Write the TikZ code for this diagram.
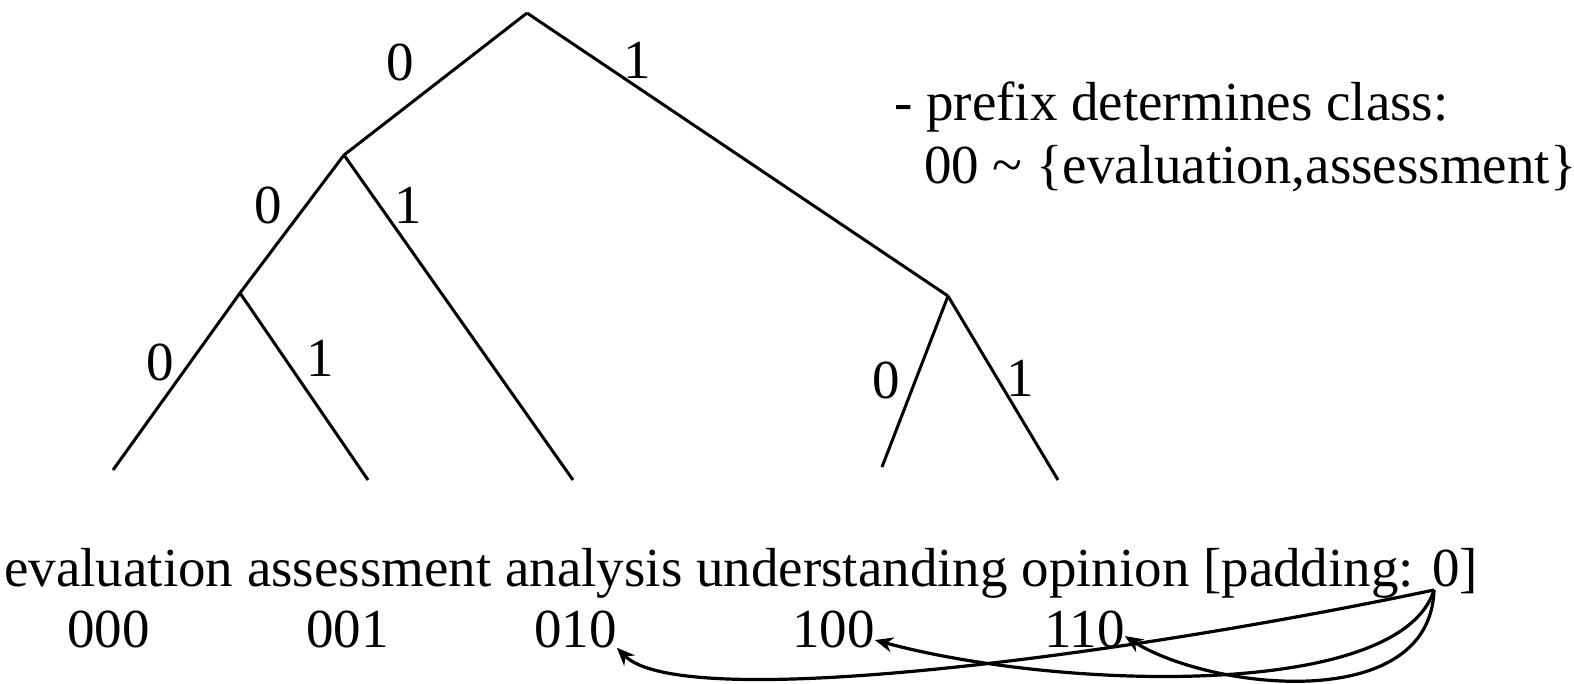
\documentclass[tikz,border=0pt]{standalone}
\usepackage{fontspec}
\setmainfont{Liberation Serif}
\usetikzlibrary{positioning}
\usetikzlibrary{arrows.meta}
\tikzset{bit/.style = {inner sep = 0, font = \fontsize{55}{66}\selectfont},
         word/.style = {inner sep = 0, anchor = base west, font = \fontsize{55}{66}\selectfont},
         edge/.style = {line width = 3pt},
         link/.style = {line width = 3.2pt, -{Stealth[length=18pt,width=15pt]}}}

\begin{document}
\begin{tikzpicture}[x=1pt, y=-1pt]
    \useasboundingbox (0,0) rectangle (1574,683);
    % tree nodes
    \coordinate (r) at (527,13);
    \coordinate (l) at (344,155);
    \coordinate (ll) at (240,293);
    \coordinate (rt) at (948,296);
    \coordinate (a) at (113,470);
    \coordinate (b) at (368,480);
    \coordinate (c) at (573,480);
    \coordinate (d) at (882,467);
    \coordinate (e) at (1058,480);
    \draw[edge] (r) -- (l);
    \draw[edge] (r) -- (rt);
    \draw[edge] (l) -- (ll);
    \draw[edge] (l) -- (c);
    \draw[edge] (ll) -- (a);
    \draw[edge] (ll) -- (b);
    \draw[edge] (rt) -- (d);
    \draw[edge] (rt) -- (e);
    % branch bits
    \node[bit] (b0) at (400,62) {0};
    \node[bit] (b1) at (637,60) {1};
    \node[bit] (b00) at (268,205) {0};
    \node[bit] (b01) at (408,205) {1};
    \node[bit] (b000) at (160,362) {0};
    \node[bit] (b001) at (320,358) {1};
    \node[bit] (b10) at (886,380) {0};
    \node[bit] (b11) at (1020,378) {1};
    % note
    \node[word] (note) at (894,120) {- prefix determines class:};
    \node[word] (cls) at (924,183) {00 \textasciitilde\ \{evaluation,assessment\}};
    % words and codes
    \node[word] (words) at (4,586) {evaluation assessment analysis understanding opinion};
    \node[word] (pad) at (1203,586) {[padding: 0]};
    \node[word] (c000) at (67,647) {000};
    \node[word] (c001) at (306,647) {001};
    \node[word] (c010) at (534,647) {010};
    \node[word] (c100) at (792,647) {100};
    \node[word] (c110) at (1044,647) {110};
    \coordinate (p) at (1434,590);
    \draw[link] (p) .. controls (1100,660) and (680,712) .. (c010.south east);
    \draw[link] (p) .. controls (1400,700) and (1060,690) .. (c100.-15);
    \draw[link] (p) .. controls (1430,715) and (1210,690) .. (c110.-10);
\end{tikzpicture}
\end{document}
